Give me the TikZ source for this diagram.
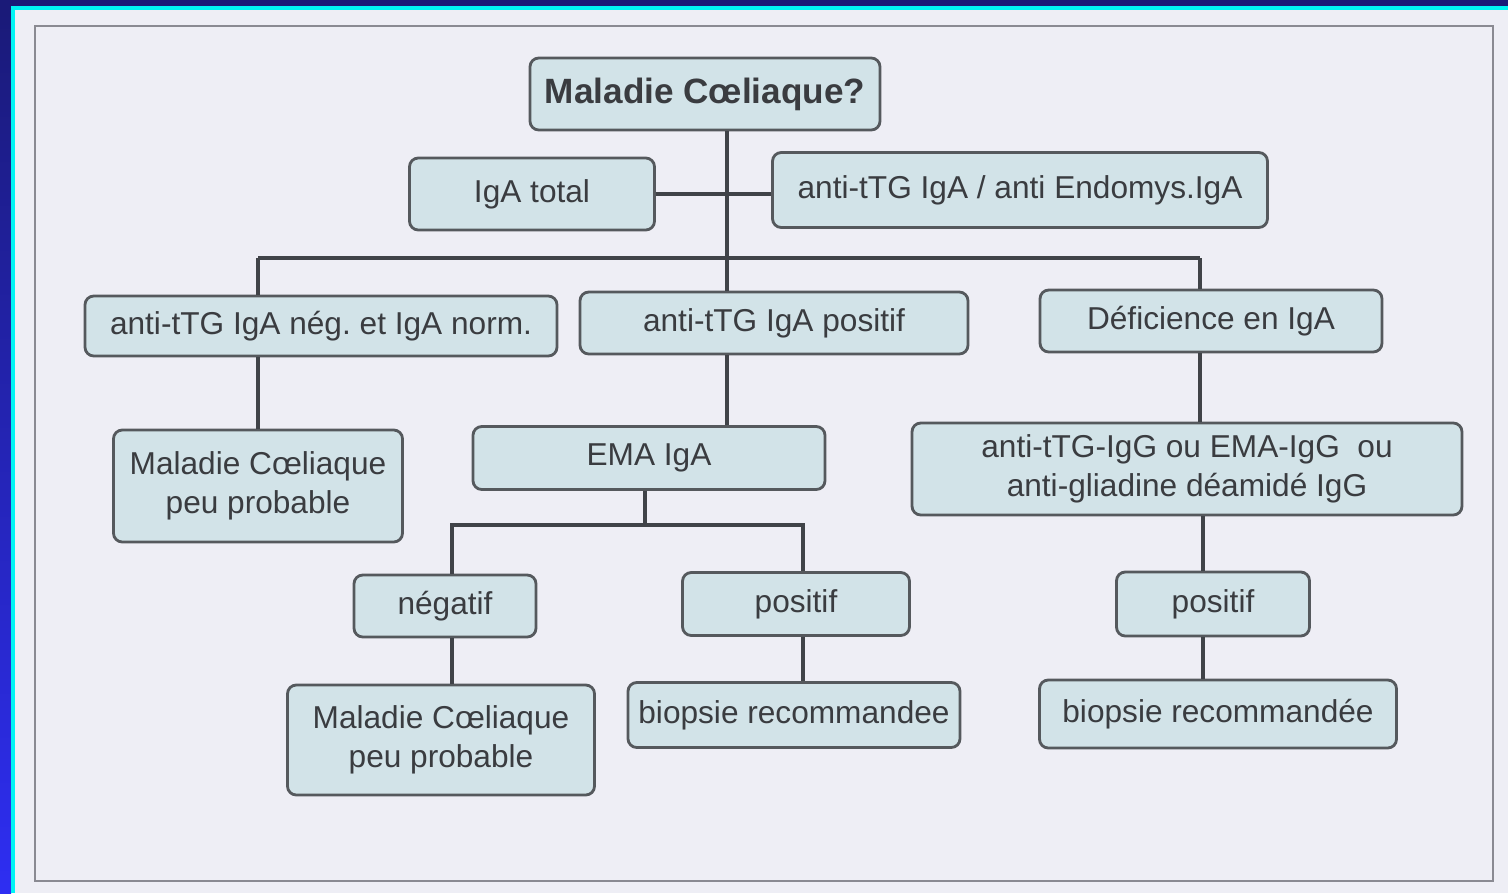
\documentclass[tikz,border=0pt]{standalone}
\usepackage{fontspec}
\setmainfont{Liberation Sans}
\usepackage{tikz}
\usetikzlibrary{positioning,calc}
\frenchspacing
\definecolor{navy}{HTML}{1A1A78}
\definecolor{brightblue}{HTML}{2E2EF2}
\definecolor{rimcyan}{HTML}{00F4F4}
\definecolor{paper}{HTML}{EEEEF5}
\definecolor{framegray}{HTML}{8A8A92}
\definecolor{boxfill}{HTML}{D2E3E8}
\definecolor{boxedge}{HTML}{55595D}
\definecolor{linkgray}{HTML}{404348}
\definecolor{txtgray}{HTML}{3A3C40}

\begin{document}
\begin{tikzpicture}[
 box/.style={draw=boxedge, line width=1.6pt, rounded corners=5pt, fill=boxfill,
   text=txtgray, align=center, inner sep=2pt,
   font=\fontsize{18}{22}\selectfont},
 lnk/.style={draw=linkgray, line width=2.2pt}]
\useasboundingbox (0,0) rectangle (30.16,-17.86);
% background and frame
\fill[navy] (0,0) rectangle (30.16,-17.86);
\shade[top color=navy, bottom color=brightblue] (0,-0.12) rectangle (0.22,-17.86);
\fill[rimcyan] (0.22,-0.12) rectangle (30.16,-17.86);
\fill[paper] (0.30,-0.20) rectangle (30.16,-17.86);
\draw[framegray, line width=1.2pt] (0.70,-0.52) rectangle (29.86,-17.62);
% junctions
\coordinate (trunk) at (14.54,-5.16);
\coordinate (barL) at (5.16,-5.16);
\coordinate (barR) at (24.00,-5.16);
\coordinate (emaj) at (12.90,-10.50);
\coordinate (emaL) at (9.04,-10.50);
\coordinate (emaR) at (16.06,-10.50);
\coordinate (iggx) at (24.06,-10.50);
% nodes
\node[box, minimum width=7.0cm, minimum height=1.44cm, font=\fontsize{20}{24}\selectfont\bfseries] (top) at (14.10,-1.88) {Maladie Cœliaque?};
\node[box, minimum width=4.9cm, minimum height=1.44cm] (igat) at (10.64,-3.88) {IgA total};
\node[box, minimum width=9.9cm, minimum height=1.5cm] (anti) at (20.40,-3.80) {anti-tTG IgA / anti Endomys.IgA};
\node[box, minimum width=9.44cm, minimum height=1.2cm] (neg) at (6.42,-6.52) {anti-tTG IgA nég. et IgA norm.};
\node[box, minimum width=7.76cm, minimum height=1.24cm] (pos) at (15.48,-6.46) {anti-tTG IgA positif};
\node[box, minimum width=6.84cm, minimum height=1.24cm] (def) at (24.22,-6.42) {Déficience en IgA};
\node[box, minimum width=5.78cm, minimum height=2.24cm] (mc1) at (5.16,-9.72) {Maladie Cœliaque\\peu probable};
\node[box, minimum width=7.04cm, minimum height=1.26cm] (ema) at (12.98,-9.16) {EMA IgA};
\node[box, minimum width=11.0cm, minimum height=1.84cm] (igg) at (23.74,-9.38) {anti-tTG-IgG ou EMA-IgG\ \ ou\\anti-gliadine déamidé IgG};
\node[box, minimum width=3.64cm, minimum height=1.24cm] (nga) at (8.90,-12.12) {négatif};
\node[box, minimum width=4.54cm, minimum height=1.26cm] (psa) at (15.92,-12.08) {positif};
\node[box, minimum width=3.86cm, minimum height=1.28cm] (psb) at (24.26,-12.08) {positif};
\node[box, minimum width=6.14cm, minimum height=2.2cm] (mc2) at (8.82,-14.80) {Maladie Cœliaque\\peu probable};
\node[box, minimum width=6.64cm, minimum height=1.3cm] (bia) at (15.88,-14.30) {biopsie recommandee};
\node[box, minimum width=7.14cm, minimum height=1.36cm] (bib) at (24.36,-14.28) {biopsie recommandée};
% connectors
\draw[lnk] (top.south -| trunk) -- (pos.north -| trunk);
\draw[lnk] (igat.east) -- (igat.east -| anti.west);
\draw[lnk] (barL) -- (barR);
\draw[lnk] (barL) -- (neg.north -| barL);
\draw[lnk] (barR) -- (def.north -| barR);
\draw[lnk] (neg.south -| barL) -- (mc1.north -| barL);
\draw[lnk] (pos.south -| trunk) -- (ema.north -| trunk);
\draw[lnk] (ema.south -| emaj) -- (emaj);
\draw[lnk] (nga.north -| emaL) |- (emaR) -- (psa.north -| emaR);
\draw[lnk] (nga.south -| emaL) -- (mc2.north -| emaL);
\draw[lnk] (psa.south -| emaR) -- (bia.north -| emaR);
\draw[lnk] (def.south -| barR) -- (igg.north -| barR);
\draw[lnk] (igg.south -| iggx) -- (psb.north -| iggx);
\draw[lnk] (psb.south -| iggx) -- (bib.north -| iggx);
\end{tikzpicture}
\end{document}
